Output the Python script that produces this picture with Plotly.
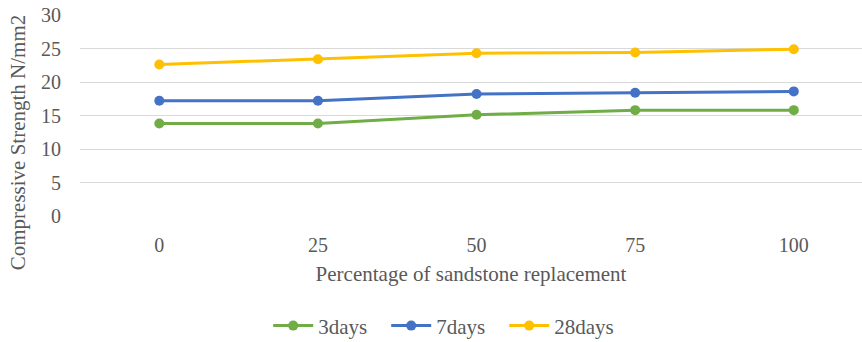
import plotly.graph_objects as go

categories = ["0", "25", "50", "75", "100"]
days3 = [13.8, 13.8, 15.1, 15.8, 15.8]
days7 = [17.2, 17.2, 18.2, 18.4, 18.6]
days28 = [22.6, 23.4, 24.3, 24.4, 24.9]
series_names = ["3days", "7days", "28days"]
colors = ["#70AD47", "#4472C4", "#FFC000"]

FONT = "Liberation Serif"
GREY = "#595959"

fig = go.Figure()
for name, vals, c in zip(series_names, [days3, days7, days28], colors):
    fig.add_trace(go.Scatter(
        x=list(range(len(categories))), y=vals, name=name, mode="lines+markers",
        line=dict(color=c, width=3), marker=dict(color=c, size=10),
    ))

fig.update_layout(
    width=862, height=342,
    margin=dict(l=80, r=0, t=15, b=126, autoexpand=False),
    plot_bgcolor="white", paper_bgcolor="white",
    font=dict(family=FONT, color=GREY, size=21),
    showlegend=True,
    legend=dict(orientation="h", x=0.467, xanchor="center", y=-0.547, yanchor="middle",
                font=dict(family=FONT, size=21, color=GREY), itemwidth=40,
                entrywidth=63, tracegroupgap=0),
    xaxis=dict(
        tickmode="array", tickvals=list(range(len(categories))), ticktext=categories,
        range=[-0.5, 4.43], showgrid=False, zeroline=False, showline=False,
        ticks="outside", ticklen=11, tickcolor="rgba(0,0,0,0)",
        tickfont=dict(family=FONT, size=20, color=GREY),
        title=dict(text="Percentage of sandstone replacement", standoff=11,
                   font=dict(family=FONT, size=21, color=GREY)),
    ),
    yaxis=dict(
        range=[0, 30], dtick=5, showgrid=True, gridcolor="#D9D9D9", gridwidth=1,
        zeroline=False, showline=False, ticklabelstandoff=18,
        tickfont=dict(family=FONT, size=20, color=GREY),
    ),
    annotations=[dict(
        text="Compressive Strength N/mm2", textangle=-90,
        xref="paper", yref="paper", x=-0.079, y=0.368,
        xanchor="center", yanchor="middle", showarrow=False,
        font=dict(family=FONT, size=21, color=GREY),
    )],
)

fig.write_html("out.html")
